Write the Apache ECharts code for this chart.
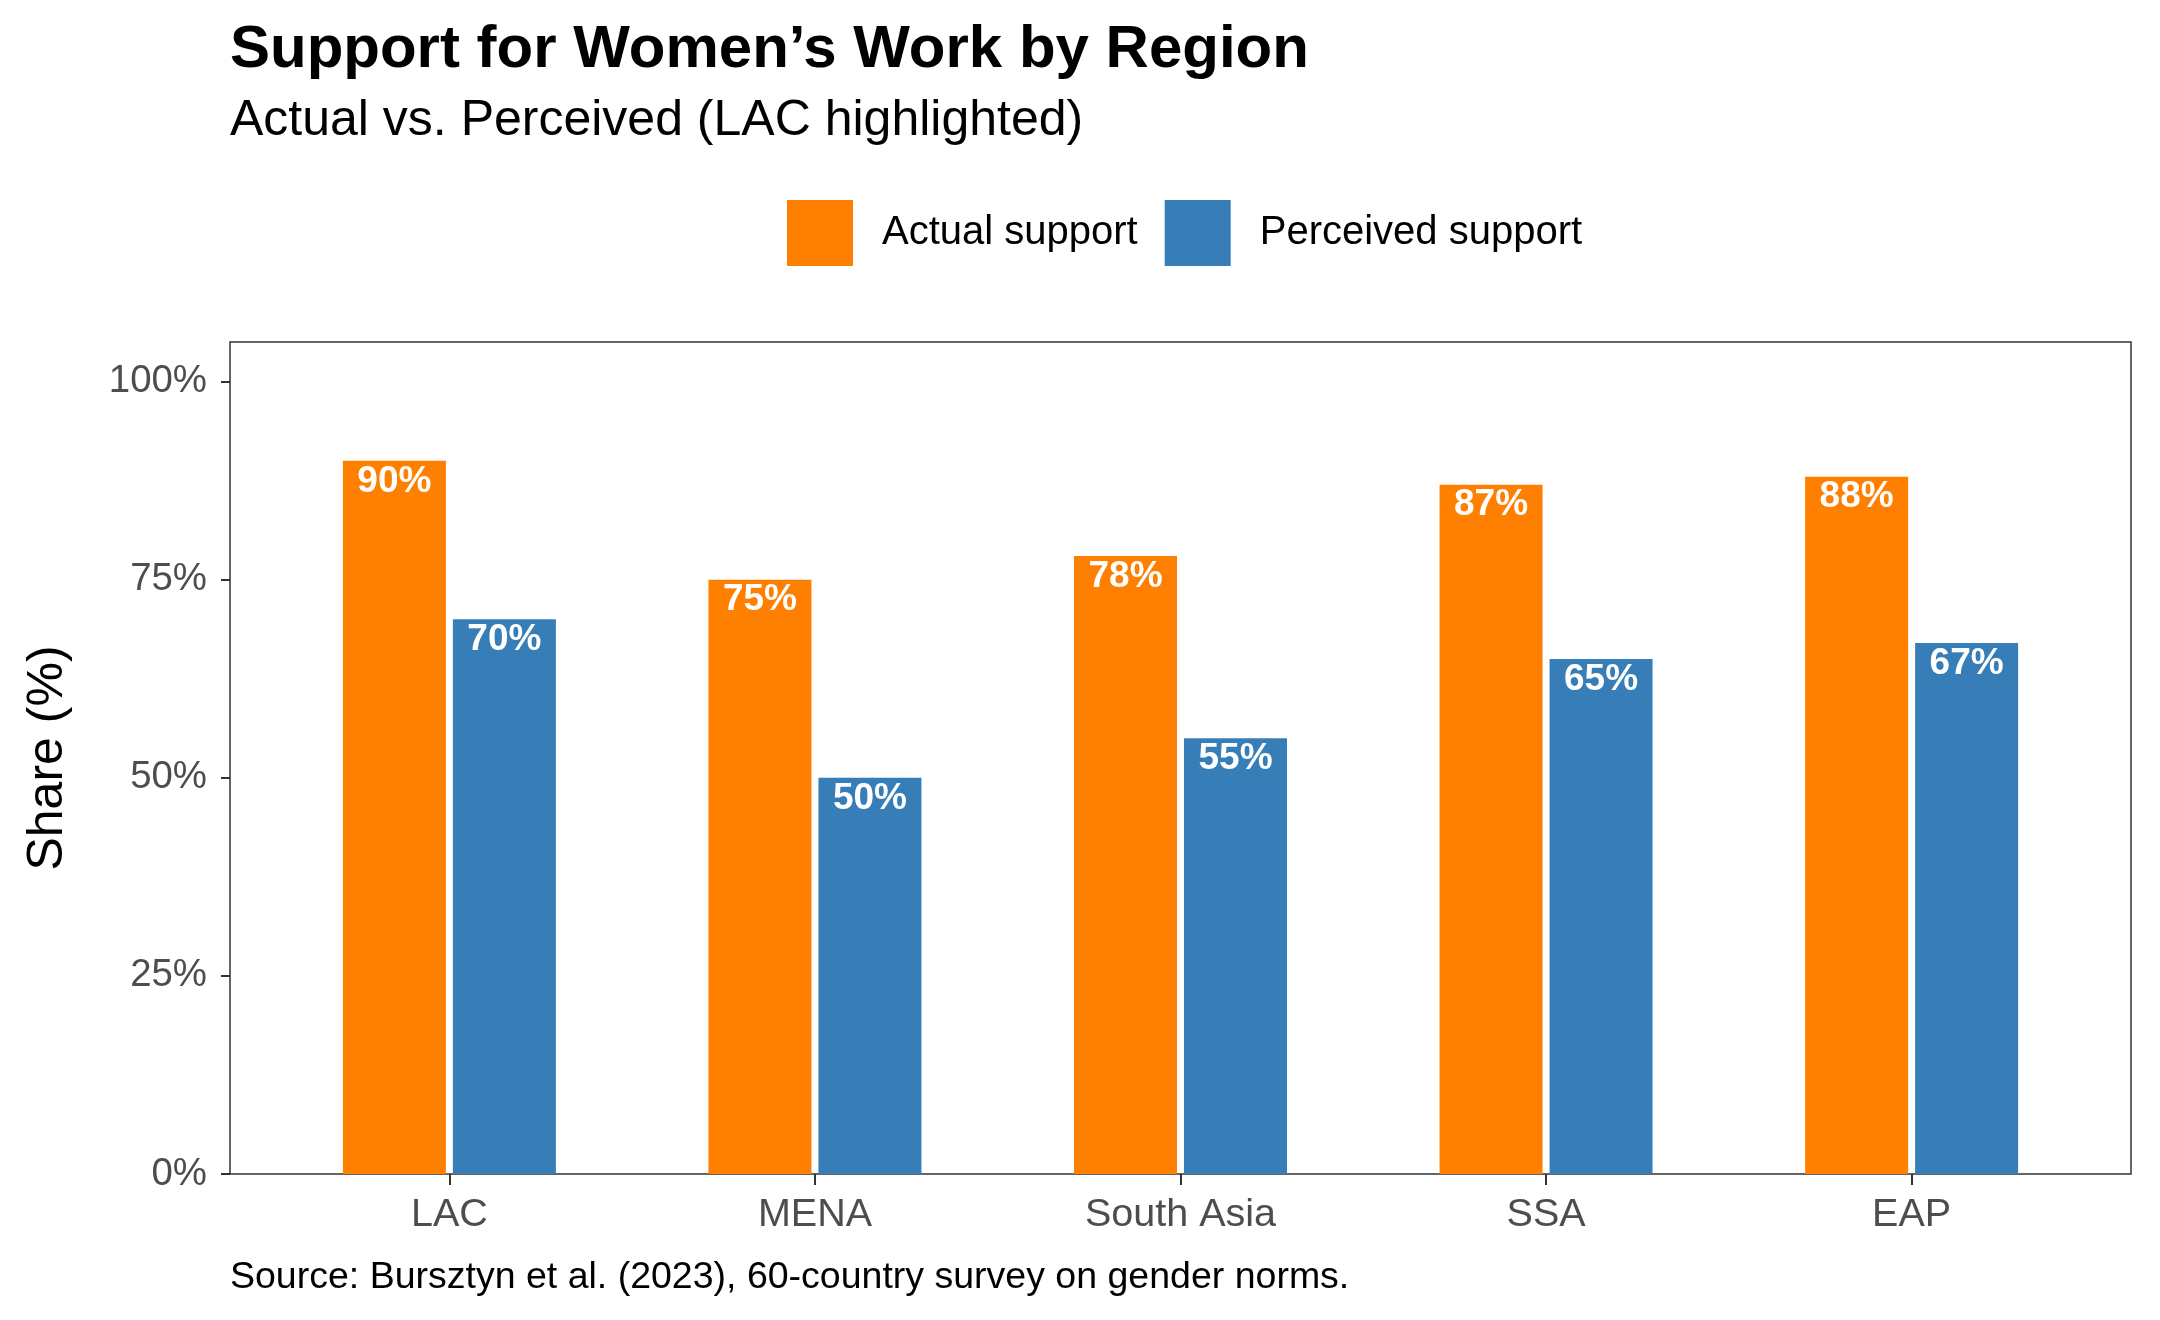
<!DOCTYPE html>
<html>
<head>
<meta charset="utf-8">
<script src="https://cdn.jsdelivr.net/npm/echarts@6/dist/echarts.min.js"></script>
<style>
  html, body { margin: 0; padding: 0; background: #fff; }
  #chart { width: 2160px; height: 1320px; }
</style>
</head>
<body>
<div id="chart"></div>
<script>
// data
const regions = ['LAC', 'MENA', 'South Asia', 'SSA', 'EAP']
const actualSupport = [90, 75, 78, 87, 88]
const perceivedSupport = [70, 50, 55, 65, 67]
const yTicks = [0, 25, 50, 75, 100]

const FONT = 'Liberation Sans, Arial, Helvetica, sans-serif'

const chart = echarts.init(document.getElementById('chart'), null, { renderer: 'canvas' })

const barLabel = {
  show: true,
  position: 'insideTop',
  distance: 2,
  formatter: '{c}%',
  color: '#fff',
  fontWeight: 'bold',
  fontSize: 37,
  fontFamily: FONT
}

const option = {
  backgroundColor: '#fff',
  animation: false,
  title: [
    {
      text: 'Support for Women’s Work by Region',
      left: 230, top: 20, padding: 0,
      textStyle: { fontFamily: FONT, fontSize: 60, fontWeight: 'bold', color: '#000' }
    },
    {
      text: 'Actual vs. Perceived (LAC highlighted)',
      left: 230, top: 96, padding: 0,
      textStyle: { fontFamily: FONT, fontSize: 50, fontWeight: 'normal', color: '#000' }
    },
    {
      text: 'Source: Bursztyn et al. (2023), 60-country survey on gender norms.',
      left: 230, top: 1259, padding: 0,
      textStyle: { fontFamily: FONT, fontSize: 37.5, fontWeight: 'normal', color: '#000' }
    }
  ],
  legend: {
    data: ['Actual support', 'Perceived support'],
    left: 787, top: 200, padding: 0,
    icon: 'rect',
    itemWidth: 66, itemHeight: 66,
    itemGap: 27,
    textStyle: { fontFamily: FONT, fontSize: 40, color: '#000', padding: [0, 0, 0, 24] }
  },
  grid: [
    // panel border
    { left: 230, right: 29, top: 342, bottom: 146, show: true, borderColor: '#333', borderWidth: 1.5, backgroundColor: 'transparent' },
    // bars (inset like ggplot's discrete expansion)
    { left: 266.6, right: 65.6, top: 342, bottom: 146 }
  ],
  xAxis: [
    { gridIndex: 0, type: 'value', show: false, min: 0, max: 1 },
    {
      gridIndex: 1,
      type: 'category',
      data: regions,
      axisLine: { show: false },
      axisTick: { show: true, alignWithLabel: true, length: 11, lineStyle: { color: '#333', width: 2 } },
      axisLabel: { margin: 21, fontFamily: FONT, fontSize: 39.5, color: '#4d4d4d' }
    }
  ],
  yAxis: [
    { gridIndex: 0, type: 'value', show: false, min: 0, max: 1 },
    {
      gridIndex: 1,
      type: 'value',
      min: 0, max: 105,
      offset: 36.6,
      name: 'Share (%)',
      nameLocation: 'middle',
      nameRotate: 90,
      nameGap: 157,
      nameTextStyle: { fontFamily: FONT, fontSize: 50, color: '#000' },
      splitLine: { show: false },
      axisLine: { show: false },
      axisTick: { show: true, length: 9, customValues: yTicks, lineStyle: { color: '#333', width: 2 } },
      axisLabel: {
        customValues: yTicks,
        margin: 23,
        formatter: '{value}%',
        fontFamily: FONT, fontSize: 38.4, color: '#4d4d4d'
      }
    }
  ],
  series: [
    {
      name: 'Actual support',
      type: 'bar',
      xAxisIndex: 1, yAxisIndex: 1,
      data: actualSupport,
      barWidth: 103,
      barGap: '6.8%',
      itemStyle: { color: '#FF7F00' },
      label: barLabel
    },
    {
      name: 'Perceived support',
      type: 'bar',
      xAxisIndex: 1, yAxisIndex: 1,
      data: perceivedSupport,
      barWidth: 103,
      barGap: '6.8%',
      itemStyle: { color: '#377EB8' },
      label: barLabel
    }
  ]
}

chart.setOption(option)
window.addEventListener('resize', () => chart.resize())
</script>
</body>
</html>
